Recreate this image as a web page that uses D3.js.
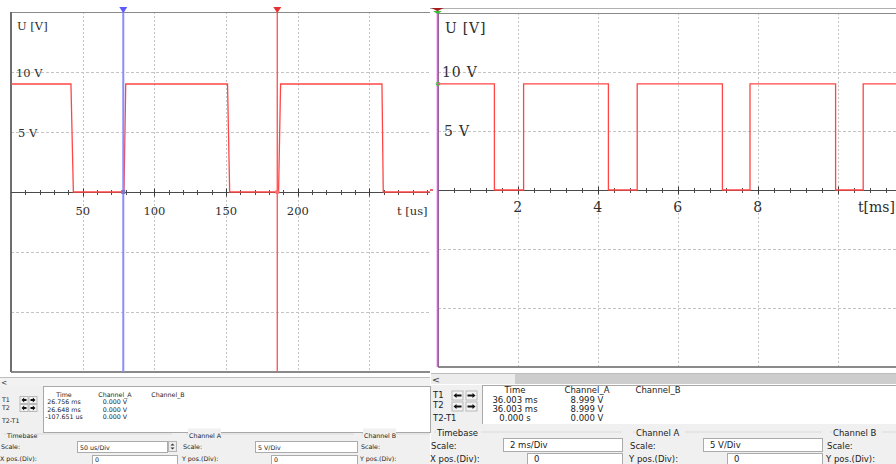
<!DOCTYPE html>
<html>
<head>
<meta charset="utf-8">
<script src="https://cdn.jsdelivr.net/npm/d3@7"></script>
<style>
  body { margin: 0; background: #fff; }
  svg { display: block; }
</style>
</head>
<body>
<svg id="chart" width="896" height="464"></svg>
<script>
// left screen, 50 us/Div  (time in us, voltage in V)
var leftTime = [0, 41.8, 43.5, 78.8, 80.0, 151.0, 152.5, 186.6, 188.0, 258.7, 259.6, 292.2];
var leftVolt = [9, 9, 0, 0, 9, 9, 0, 0, 9, 9, 0, 0];
var leftGridX = [50, 100, 150, 200, 250];
var leftTicks = [50, 100, 150, 200];
var leftCursors = [78.3, 185.7];

// right screen, 2 ms/Div  (time in ms)
var rightTime = [0, 1.41, 1.41, 2.14, 2.14, 4.26, 4.26, 4.98, 4.98, 7.11, 7.11, 7.80, 7.80, 9.94, 9.94, 10.63, 10.63, 11.45];
var rightVolt = [9, 9, 0, 0, 9, 9, 0, 0, 9, 9, 0, 0, 9, 9, 0, 0, 9, 9];
var rightGridX = [2, 4, 6, 8, 10];
var rightTicks = [2, 4, 6, 8];
var rightCursors = [0];

var voltGrid = [10, 5, -5, -10];
var voltLabels = [10, 5];

var readHeader = ["Time", "Channel_A", "Channel_B"];
var leftReadout = [["26.756 ms", "0.000 V"], ["26.648 ms", "0.000 V"], ["-107.651 us", "0.000 V"]];
var rightReadout = [["36.003 ms", "8.999 V"], ["36.003 ms", "8.999 V"], ["0.000 s", "0.000 V"]];
var leftControls = ["50 us/Div", "0", "5  V/Div", "0"];
var rightControls = ["2 ms/Div", "0", "5  V/Div", "0"];

var svg = d3.select("#chart");

function drawScreen(p) {
    var x = d3.scaleLinear().domain(p.domain).range([p.left, p.right]);
    var y = d3.scaleLinear().domain([-15, 15]).range([p.bottom, p.top]);
    var g = svg.append("g");

    // grid
    g.selectAll(".gx").data(p.gridX).enter().append("line")
        .attr("x1", function(d) { return Math.round(x(d)) + 0.5; })
        .attr("x2", function(d) { return Math.round(x(d)) + 0.5; })
        .attr("y1", p.top).attr("y2", p.bottom)
        .attr("stroke", "#c4c4c4").attr("stroke-dasharray", "2,2");
    g.selectAll(".gy").data(voltGrid).enter().append("line")
        .attr("x1", p.left).attr("x2", p.right)
        .attr("y1", function(d) { return Math.round(y(d)) + 0.5; })
        .attr("y2", function(d) { return Math.round(y(d)) + 0.5; })
        .attr("stroke", "#c4c4c4").attr("stroke-dasharray", "3,2");

    // frame
    g.append("line").attr("x1", p.left).attr("x2", p.right).attr("y1", p.top + 0.5).attr("y2", p.top + 0.5)
        .attr("stroke", "#8a8a8a");
    if (p.topLine) {
        g.append("line").attr("x1", p.left - 8).attr("x2", p.right).attr("y1", 8.5).attr("y2", 8.5)
            .attr("stroke", "#b0b0b0");
    }
    g.append("line").attr("x1", p.left).attr("x2", p.right).attr("y1", p.bottom).attr("y2", p.bottom)
        .attr("stroke", "#8a8a8a").attr("stroke-width", 2);
    g.append("line").attr("x1", p.left).attr("x2", p.left).attr("y1", p.top).attr("y2", p.bottom)
        .attr("stroke", "#6e6e6e").attr("stroke-width", 2);

    // zero axis with ticks
    var y0 = Math.round(y(0)) + 0.5;
    g.append("line").attr("x1", p.left).attr("x2", p.right).attr("y1", y0).attr("y2", y0)
        .attr("stroke", "#4a4a4a");
    var minor = d3.range(p.minorStep, p.domain[1], p.minorStep);
    g.selectAll(".mt").data(minor).enter().append("line")
        .attr("x1", function(d) { return Math.round(x(d)) + 0.5; })
        .attr("x2", function(d) { return Math.round(x(d)) + 0.5; })
        .attr("y1", y0 - 2.5).attr("y2", y0 + 2.5)
        .attr("stroke", "#4a4a4a");
    g.selectAll(".Mt").data(p.gridX).enter().append("line")
        .attr("x1", function(d) { return Math.round(x(d)) + 0.5; })
        .attr("x2", function(d) { return Math.round(x(d)) + 0.5; })
        .attr("y1", y0 - 4).attr("y2", y0 + 4)
        .attr("stroke", "#3a3a3a");

    // labels
    var font = "'DejaVu Serif', serif";
    g.selectAll(".tl").data(p.ticks).enter().append("text")
        .attr("x", function(d) { return x(d); })
        .attr("y", p.tickY)
        .attr("text-anchor", "middle")
        .attr("font-family", font).attr("font-size", p.fs + "px")
        .attr("letter-spacing", p.ls)
        .attr("fill", "#2e2e2e")
        .text(function(d) { return d; });
    g.selectAll(".vl").data(voltLabels).enter().append("text")
        .attr("x", function(d) { return p.left + (d < 10 ? p.vlx + 2 : p.vlx); })
        .attr("y", function(d) { return y(d) + 5; })
        .attr("font-family", font).attr("font-size", p.fs + "px")
        .attr("letter-spacing", p.ls)
        .attr("fill", "#2e2e2e")
        .text(function(d) { return d + " V"; });
    g.append("text").attr("x", p.left + p.ulx).attr("y", p.uy)
        .attr("font-family", font).attr("font-size", p.fs + "px")
        .attr("letter-spacing", p.ls).attr("fill", "#2e2e2e")
        .text("U [V]");
    g.append("text").attr("x", p.tx).attr("y", p.tickY)
        .attr("text-anchor", p.tAnchor || "start")
        .attr("font-family", font).attr("font-size", p.fs + "px")
        .attr("fill", "#2e2e2e")
        .text(p.tLabel);

    // signal
    var line = d3.line()
        .x(function(d) { return x(d[0]); })
        .y(function(d) { return y(d[1]); });
    g.append("path")
        .attr("d", line(d3.zip(p.time, p.volt)))
        .attr("fill", "none")
        .attr("stroke", "#ff4646")
        .attr("stroke-width", 1.3);

    return {x: x, y: y, g: g};
}

// ---- left screen
var L = drawScreen({
    domain: [0, 292.2], left: 11, right: 430, top: 12, bottom: 372,
    gridX: leftGridX, ticks: leftTicks, minorStep: 10,
    time: leftTime, volt: leftVolt,
    fs: 11.5, ls: 0, tickY: 215, vlx: 5, ulx: 6, uy: 30, tx: 397, tLabel: "t [us]"
});
var cursorColors = ["#8c8cff", "#ff5a5a"];
L.g.selectAll(".cur").data(leftCursors).enter().append("line")
    .attr("x1", function(d) { return L.x(d); }).attr("x2", function(d) { return L.x(d); })
    .attr("y1", 9).attr("y2", 372)
    .attr("stroke", function(d, i) { return cursorColors[i]; })
    .attr("stroke-width", function(d, i) { return i == 0 ? 2 : 1.4; });
L.g.selectAll(".tri").data(leftCursors).enter().append("path")
    .attr("d", function(d) { var c = L.x(d); return "M" + (c - 4) + ",7L" + (c + 4) + ",7L" + c + ",13Z"; })
    .attr("fill", function(d, i) { return i == 0 ? "#5a5aff" : "#e83030"; });
L.g.append("rect").attr("x", L.x(leftCursors[0]) - 2).attr("y", L.y(0) - 2).attr("width", 4).attr("height", 4)
    .attr("fill", "#7a7acc");
L.g.append("circle").attr("cx", L.x(leftCursors[1])).attr("cy", L.y(0)).attr("r", 2.2)
    .attr("fill", "#ff7070");

// ---- right screen
var R = drawScreen({
    domain: [0, 11.45], left: 438, right: 896, top: 13, bottom: 367,
    gridX: rightGridX, ticks: rightTicks, minorStep: 0.4,
    time: rightTime, volt: rightVolt, topLine: true,
    fs: 14, ls: 0.8, tickY: 212, vlx: 4, ulx: 7, uy: 33, tx: 895, tAnchor: "end", tLabel: "t[ms]"
});
R.g.selectAll(".cur").data(rightCursors).enter().append("line")
    .attr("x1", function(d) { return R.x(d) - 0.5; }).attr("x2", function(d) { return R.x(d) - 0.5; })
    .attr("y1", 10).attr("y2", 367)
    .attr("stroke", "#f24cf2").attr("stroke-width", 1.6);
R.g.append("path").attr("d", "M431,8L444,8L437.5,11Z").attr("fill", "#a52020");
R.g.append("path").attr("d", "M433,11L442,11L437.5,14Z").attr("fill", "#2fbf2f");
R.g.append("circle").attr("cx", R.x(0)).attr("cy", R.y(9)).attr("r", 1.8)
    .attr("fill", "none").attr("stroke", "#3bc43b");
R.g.append("line").attr("x1", 430).attr("x2", 433).attr("y1", R.y(0)).attr("y2", R.y(0))
    .attr("stroke", "#e03030").attr("stroke-width", 1.5);

// ---- instrument panels below the screens
var uiFont = "'DejaVu Sans', Verdana, sans-serif";

function txt(g, x, y, s, size, anchor, color) {
    return g.append("text").attr("x", x).attr("y", y)
        .attr("font-family", uiFont).attr("font-size", size + "px")
        .attr("text-anchor", anchor || "start")
        .attr("fill", color || "#222").text(s);
}

function drawPanel(u) {
    var g = svg.append("g");
    // scrollbar
    g.append("rect").attr("x", u.x0).attr("y", u.sbY).attr("width", u.x1 - u.x0).attr("height", u.sbH)
        .attr("fill", u.sbDark);
    g.append("rect").attr("x", u.x0).attr("y", u.sbY).attr("width", u.thumb).attr("height", u.sbH)
        .attr("fill", "#ececec");
    g.append("line").attr("x1", u.x0).attr("x2", u.x1).attr("y1", u.sbY - 0.5).attr("y2", u.sbY - 0.5)
        .attr("stroke", "#bdbdbd");
    txt(g, u.x0 + 1, u.sbY + u.sbH - 1.5, "<", u.fs + 1, "start", "#333");

    // readout box
    g.append("rect").attr("x", u.x0).attr("y", u.boxY).attr("width", u.x1 - u.x0).attr("height", u.ctlY - u.boxY)
        .attr("fill", "#f0f0f0");
    g.append("rect").attr("x", u.boxX + 0.5).attr("y", u.boxY + 0.5).attr("width", u.x1 - u.boxX).attr("height", u.boxH)
        .attr("fill", "#fff").attr("stroke", "#a8a8a8");
    txt(g, u.x0 + 2, u.rowY[0], "T1", u.fs);
    txt(g, u.x0 + 2, u.rowY[1], "T2", u.fs);
    txt(g, u.x0 + 2, u.rowY[2], "T2-T1", u.fs);
    [0, 1].forEach(function(r) {
        [0, 1].forEach(function(c) {
            var bx = u.btnX[c], by = u.btnY[r], w = u.btnW, h = u.btnH, cy = by + h / 2;
            var head = Math.min(3, w / 3), shaft = w - 3 - head;
            g.append("rect").attr("x", bx).attr("y", by).attr("width", w).attr("height", h)
                .attr("fill", "#f4f4f4").attr("stroke", "#b8b8b8");
            g.append("path")
                .attr("d", c == 0
                    ? "M" + (bx + 1.5) + "," + cy + "l" + head + ",-2.5v1.6h" + shaft + "v1.8h-" + shaft + "v1.6Z"
                    : "M" + (bx + w - 1.5) + "," + cy + "l-" + head + ",-2.5v1.6h-" + shaft + "v1.8h" + shaft + "v1.6Z")
                .attr("fill", "#111");
        });
    });
    readHeader.forEach(function(h, i) {
        txt(g, u.colX[i], u.headY, h, u.fs, "middle");
    });
    u.readout.forEach(function(row, r) {
        row.forEach(function(v, c) {
            txt(g, u.colX[c], u.valY[r], v, u.fs, "middle");
        });
    });

    // controls
    g.append("rect").attr("x", u.x0).attr("y", u.ctlY).attr("width", u.x1 - u.x0).attr("height", 464 - u.ctlY)
        .attr("fill", "#f0f0f0");
    u.groups.forEach(function(gr) {
        g.append("line").attr("x1", gr.x - 3).attr("x2", gr.x + gr.w).attr("y1", u.grpY - 3.5).attr("y2", u.grpY - 3.5)
            .attr("stroke", "#dadada");
        g.append("rect").attr("x", gr.x - 1).attr("y", u.grpY - 9).attr("width", gr.tw).attr("height", 10)
            .attr("fill", "#f0f0f0");
        txt(g, gr.x, u.grpY, gr.title, u.fs);
        txt(g, gr.lx, u.scY, "Scale:", u.fs);
        txt(g, gr.lx - 1, u.posY, gr.pos, u.fs);
    });
    u.inputs.forEach(function(b, i) {
        g.append("rect").attr("x", b[0] + 0.5).attr("y", b[1] + 0.5).attr("width", b[2] - b[0]).attr("height", b[3] - b[1])
            .attr("fill", "#fff").attr("stroke", "#ababab");
        txt(g, b[0] + u.inPad, b[4], u.controls[i], u.fs);
    });
    if (u.spin) {
        g.append("rect").attr("x", u.spin[0] + 0.5).attr("y", u.spin[1] + 0.5).attr("width", 8).attr("height", 10)
            .attr("fill", "#ededed").attr("stroke", "#b5b5b5");
        g.append("path").attr("d", "M" + (u.spin[0] + 2.5) + "," + (u.spin[1] + 4.5) + "l2,-2l2,2Z M" +
            (u.spin[0] + 2.5) + "," + (u.spin[1] + 6.5) + "l2,2l2,-2Z").attr("fill", "#333");
    }
}

drawPanel({
    x0: 0, x1: 430, fs: 6.3,
    sbY: 378, sbH: 8, sbDark: "#f2f2f2", thumb: 0,
    boxX: 43, boxY: 386, boxH: 46, ctlY: 433,
    rowY: [401.5, 410, 422.5], btnX: [20, 29], btnY: [396.5, 404.5], btnW: 8, btnH: 7,
    colX: [64, 115, 168], headY: 396.5, valY: [404, 411.5, 419],
    readout: leftReadout,
    grpY: 437.5, scY: 448.5, posY: 461,
    groups: [
        {x: 7, w: 165, tw: 30, title: "Timebase", lx: 1, pos: "X pos.(Div):"},
        {x: 189, w: 165, tw: 33, title: "Channel A", lx: 183, pos: "Y pos.(Div):"},
        {x: 364, w: 66, tw: 33, title: "Channel B", lx: 361, pos: "Y pos.(Div):"}
    ],
    inputs: [[77, 441, 167, 452, 449.5], [92, 455, 177, 466, 461.5], [255, 441, 357, 452, 449.5], [271, 455, 357, 466, 461.5]],
    controls: leftControls, inPad: 3, spin: [168, 441]
});

drawPanel({
    x0: 431, x1: 896, fs: 8.5,
    sbY: 374, sbH: 10, sbDark: "#cdcdcd", thumb: 84,
    boxX: 482, boxY: 385, boxH: 39, ctlY: 424,
    rowY: [397.5, 407.5, 421], btnX: [452, 466], btnY: [391, 402], btnW: 11, btnH: 9,
    colX: [515, 587, 658], headY: 393, valY: [402.5, 411.5, 420.5],
    readout: rightReadout,
    grpY: 435.5, scY: 449, posY: 461.5,
    groups: [
        {x: 437, w: 185, tw: 45, title: "Timebase", lx: 431, pos: "X pos.(Div):"},
        {x: 636, w: 186, tw: 50, title: "Channel A", lx: 630, pos: "Y pos.(Div):"},
        {x: 833, w: 63, tw: 50, title: "Channel B", lx: 827, pos: "Y pos.(Div):"}
    ],
    inputs: [[503, 438, 622, 451, 447.5], [527, 453, 622, 466, 461.5], [703, 438, 822, 451, 447.5], [727, 453, 822, 466, 461.5]],
    controls: rightControls, inPad: 7
});
</script>
</body>
</html>
